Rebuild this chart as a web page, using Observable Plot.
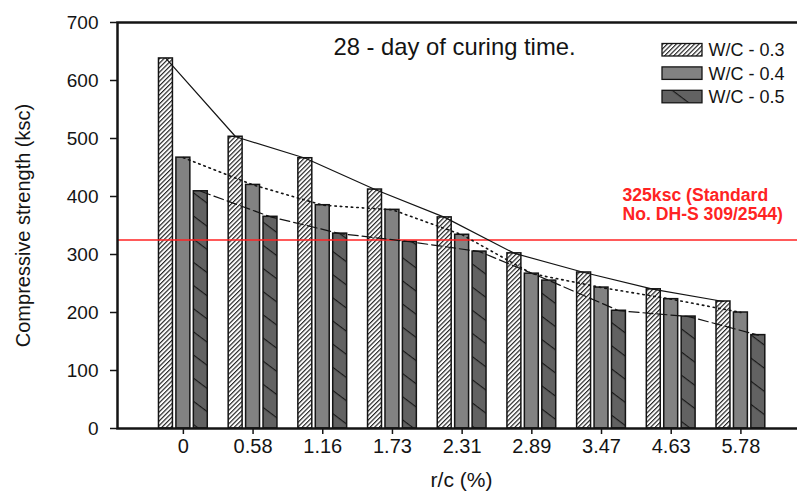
<!DOCTYPE html>
<html>
<head>
<meta charset="utf-8">
<script src="https://cdn.jsdelivr.net/npm/d3@7"></script>
<script src="https://cdn.jsdelivr.net/npm/@observablehq/plot@0.6"></script>
<style>
  html, body { margin: 0; padding: 0; background: white; }
  #chart { width: 797px; height: 494px; overflow: hidden; }
</style>
</head>
<body>
<div id="chart"></div>
<script>
// ---- data ----
const categories = ["0", "0.58", "1.16", "1.73", "2.31", "2.89", "3.47", "4.63", "5.78"];
const seriesNames = ["0.3", "0.4", "0.5"];
const seriesLabels = ["W/C - 0.3", "W/C - 0.4", "W/C - 0.5"];
const wc03 = [638, 503, 466, 412, 364, 302, 269, 240, 219];
const wc04 = [467, 420, 385, 377, 334, 267, 243, 223, 200];
const wc05 = [409, 365, 336, 322, 305, 255, 203, 193, 161];
const yTicks = [0, 100, 200, 300, 400, 500, 600, 700];
const standardValue = 325;
const titleText = "28 - day of curing time.";
const standardText = "325ksc (Standard\nNo. DH-S 309/2544)";
const yLabel = "Compressive strength (ksc)";
const xLabel = "r/c (%)";

// ---- build table ----
const values = [wc03, wc04, wc05];
const keyOf = (c, s) => c + "|" + s;
const xDomain = categories.flatMap(c => [...seriesNames.map(s => keyOf(c, s)), keyOf(c, "gap")]);
const rows = categories.flatMap((c, i) =>
  seriesNames.map((s, j) => ({cat: c, series: s, key: keyOf(c, s), value: values[j][i]})));
const bySeries = s => rows.filter(d => d.series === s);

const fills = {"0.3": "url(#hatch03)", "0.4": "#828282", "0.5": "url(#hatch05)"};
const dashes = {"0.3": null, "0.4": "1.5,4", "0.5": "10,4"};

const FONT = "'Liberation Sans', Arial, Helvetica, sans-serif";
const INK = "#141414";

const marks = [];
for (const s of seriesNames) {
  marks.push(Plot.barY(bySeries(s), {x: "key", y: "value", fill: fills[s], stroke: INK, strokeWidth: 1.5}));
}
marks.push(Plot.ruleY([standardValue], {stroke: "#ff2323", strokeWidth: 1.6}));
for (const s of seriesNames) {
  marks.push(Plot.line(bySeries(s), {x: "key", y: "value", stroke: INK, strokeWidth: s === "0.4" ? 1.6 : 1.2,
    strokeDasharray: dashes[s]}));
}
marks.push(
  Plot.axisY({ticks: yTicks, tickSize: 7, tickPadding: 12, fontSize: 19, strokeWidth: 1.5, label: null, fill: INK}),
  Plot.axisX({ticks: categories.map(c => keyOf(c, "0.4")), tickFormat: d => d.split("|")[0],
    tickSize: 6, tickPadding: 4, fontSize: 20, strokeWidth: 1.5, label: null, fill: INK}),
  Plot.frame({stroke: INK, strokeWidth: 2.5, insetRight: -8}),
  Plot.text([titleText], {text: d => d, frameAnchor: "top-left", dx: 216, dy: 25, textAnchor: "start",
    lineAnchor: "middle", fontSize: 23.8, fill: INK}),
  Plot.text([standardText], {text: d => d, frameAnchor: "top-left", dx: 505, dy: 182, textAnchor: "start",
    lineAnchor: "middle", lineHeight: 1.04, fontSize: 17.6, fontWeight: "bold", fill: "#ff2323"}),
  Plot.text([yLabel], {text: d => d, frameAnchor: "left", rotate: -90, dx: -94, textAnchor: "middle",
    lineAnchor: "middle", fontSize: 20, fill: INK}),
  Plot.text([xLabel], {text: d => d, frameAnchor: "bottom", dx: 4, dy: 52, textAnchor: "middle",
    lineAnchor: "middle", fontSize: 21, fill: INK})
);

const svg = Plot.plot({
  width: 797,
  height: 494,
  marginLeft: 117,
  marginRight: 0,
  marginTop: 22,
  marginBottom: 66,
  style: {fontFamily: FONT, background: "white", color: INK, overflow: "hidden"},
  x: {type: "band", domain: xDomain, range: [155, 785.7], paddingInner: 0.2, paddingOuter: 0.2, align: 0.5, round: false, axis: null},
  y: {domain: [0, 700], axis: null},
  marks
});

// ---- patterns ----
const defs = d3.select(svg).insert("defs", ":first-child");
const p1 = defs.append("pattern").attr("id", "hatch03").attr("patternUnits", "userSpaceOnUse")
  .attr("width", 3.2).attr("height", 3.2).attr("patternTransform", "rotate(45)");
p1.append("rect").attr("width", 3.2).attr("height", 3.2).attr("fill", "white");
p1.append("line").attr("x1", 0.6).attr("y1", 0).attr("x2", 0.6).attr("y2", 3.2).attr("stroke", INK).attr("stroke-width", 1.1);
const p2 = defs.append("pattern").attr("id", "hatch05").attr("patternUnits", "userSpaceOnUse")
  .attr("width", 10).attr("height", 18.5).attr("patternTransform", "rotate(37)");
p2.append("rect").attr("width", 10).attr("height", 18.5).attr("fill", "#626262");
p2.append("line").attr("x1", 0).attr("y1", 0.6).attr("x2", 10).attr("y2", 0.6).attr("stroke", INK).attr("stroke-width", 1.1);

// ---- legend ----
const lg = d3.select(svg).append("g").attr("font-family", FONT).attr("text-anchor", "start");
seriesNames.forEach((s, i) => {
  const y0 = 43.5 + 23.4 * i;
  lg.append("rect").attr("x", 662).attr("y", y0).attr("width", 40).attr("height", 12.5)
    .attr("fill", fills[s]).attr("stroke", INK).attr("stroke-width", 1.3);
  lg.append("text").attr("x", 708.5).attr("y", y0 + 6.5).attr("dy", "0.36em")
    .attr("text-anchor", "start").attr("font-size", 18).attr("fill", INK).text(seriesLabels[i]);
});

document.getElementById("chart").appendChild(svg);
</script>
</body>
</html>
